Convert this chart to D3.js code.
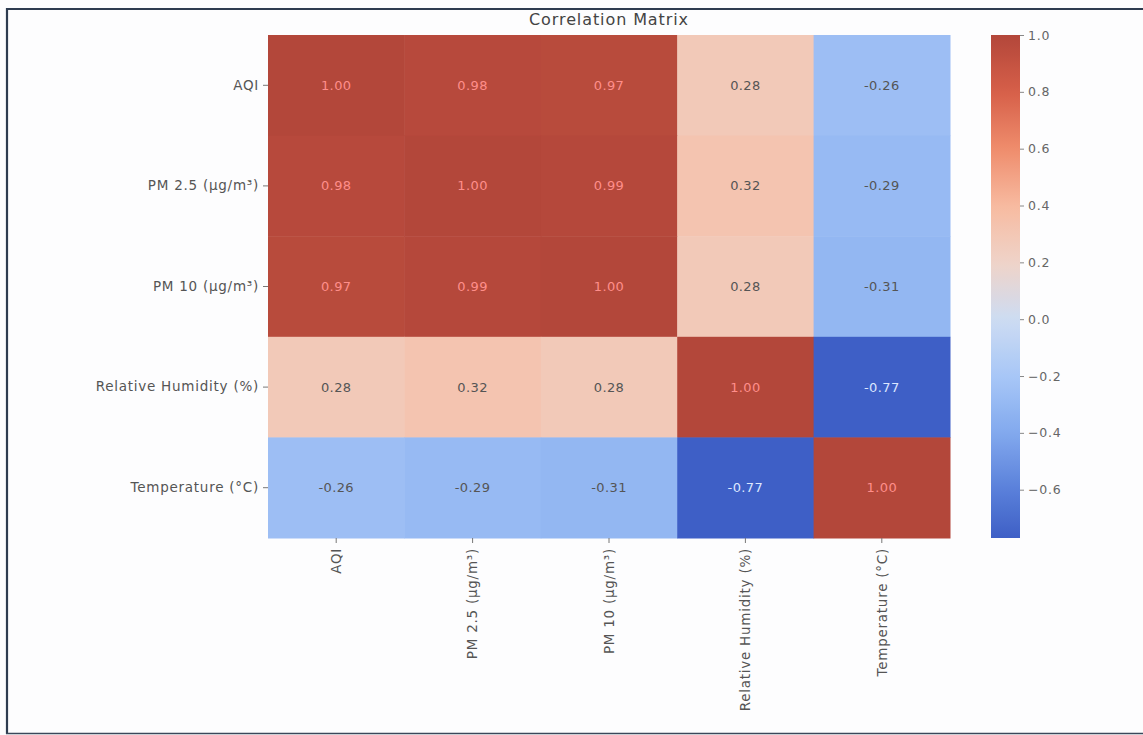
<!DOCTYPE html>
<html>
<head>
<meta charset="utf-8">
<script src="https://cdn.jsdelivr.net/npm/d3@7"></script>
<style>
  html, body { margin: 0; padding: 0; background: #fdfdfe; }
  svg { display: block; }
  text { font-family: "DejaVu Sans", sans-serif; }
</style>
</head>
<body>
<svg id="chart" width="1143" height="735"></svg>
<script>
// ---- data ----
const labels = ["AQI", "PM 2.5 (µg/m³)", "PM 10 (µg/m³)", "Relative Humidity (%)", "Temperature (°C)"];
const rowAQI  = [1.00, 0.98, 0.97, 0.28, -0.26];
const rowPM25 = [0.98, 1.00, 0.99, 0.32, -0.29];
const rowPM10 = [0.97, 0.99, 1.00, 0.28, -0.31];
const rowRH   = [0.28, 0.32, 0.28, 1.00, -0.77];
const rowTemp = [-0.26, -0.29, -0.31, -0.77, 1.00];
const colorbarTicks = [1.0, 0.8, 0.6, 0.4, 0.2, 0.0, -0.2, -0.4, -0.6];
const titleText = "Correlation Matrix";

const matrix = [rowAQI, rowPM25, rowPM10, rowRH, rowTemp];
const cells = [];
matrix.forEach((row, i) => row.forEach((v, j) => cells.push({ r: labels[i], c: labels[j], v })));

const vmin = d3.min(cells, d => d.v), vmax = d3.max(cells, d => d.v);

// colour map (scan-tinted coolwarm)
const color = d3.scaleLinear()
  .domain([-0.77, -0.6, -0.4, -0.2, 0.0, 0.2, 0.4, 0.6, 0.8, 1.0])
  .range(["#3e5fc6", "#5a80da", "#82a9ee", "#a8c7f7", "#cddcf2", "#efd3c8", "#f7baa0", "#ef8c6c", "#d65f49", "#b3473a"])
  .interpolate(d3.interpolateRgb)
  .clamp(true);

const svg = d3.select("#chart");

// frame
svg.append("line").attr("x1", 6).attr("x2", 1143).attr("y1", 9).attr("y2", 9)
  .attr("stroke", "#2e3c50").attr("stroke-width", 2.2);
svg.append("line").attr("x1", 7).attr("x2", 7).attr("y1", 8).attr("y2", 734)
  .attr("stroke", "#2e3c50").attr("stroke-width", 2.2);
svg.append("line").attr("x1", 6).attr("x2", 1143).attr("y1", 733.5).attr("y2", 733.5)
  .attr("stroke", "#3a475a").attr("stroke-width", 1.5);

const L = 268, R = 950, T = 35, B = 538;
const x = d3.scaleBand().domain(labels).range([L, R]);
const y = d3.scaleBand().domain(labels).range([T, B]);

svg.append("g").selectAll("rect").data(cells).join("rect")
  .attr("x", d => x(d.c)).attr("y", d => y(d.r))
  .attr("width", x.bandwidth() + 0.5).attr("height", y.bandwidth() + 0.5)
  .attr("fill", d => color(d.v));

svg.append("g").selectAll("text").data(cells).join("text")
  .attr("x", d => x(d.c) + x.bandwidth() / 2)
  .attr("y", d => y(d.r) + y.bandwidth() / 2)
  .attr("dy", "0.35em")
  .attr("text-anchor", "middle")
  .attr("font-size", 13)
  .attr("letter-spacing", 0.4)
  .attr("fill", d => d.v > 0.6 ? "#ff8e8a" : (d.v < -0.5 ? "#dce7ff" : "#555555"))
  .text(d => d3.format(".2f")(d.v).replace("−", "-"));

// axes
const yAxis = svg.append("g").attr("transform", `translate(${L},0)`)
  .call(d3.axisLeft(y).tickSize(5).tickPadding(4));
yAxis.select(".domain").remove();
yAxis.selectAll("line").attr("stroke", "#777");
yAxis.selectAll("text").attr("font-size", 13.5).attr("fill", "#555")
  .attr("letter-spacing", 0.75)
  .attr("font-family", "DejaVu Sans, sans-serif");

const xAxis = svg.append("g").attr("transform", `translate(0,${B})`)
  .call(d3.axisBottom(x).tickSize(5).tickPadding(4));
xAxis.select(".domain").remove();
xAxis.selectAll("line").attr("stroke", "#777");
xAxis.selectAll(".tick text").attr("font-size", 13.5).attr("fill", "#555")
  .attr("letter-spacing", 0.75)
  .attr("font-family", "DejaVu Sans, sans-serif")
  .attr("transform", "rotate(-90)")
  .attr("text-anchor", "end")
  .attr("x", -10).attr("y", 0).attr("dy", "0.35em");

// title
svg.append("text").attr("x", (L + R) / 2).attr("y", 25)
  .attr("text-anchor", "middle").attr("font-size", 16).attr("fill", "#444")
  .attr("letter-spacing", 0.9)
  .text(titleText);

// colorbar
const cbX = 991, cbW = 29;
const cbScale = d3.scaleLinear().domain([vmin, vmax]).range([B, T]);
const defs = svg.append("defs");
const grad = defs.append("linearGradient").attr("id", "cbgrad")
  .attr("x1", 0).attr("x2", 0).attr("y1", 1).attr("y2", 0);
d3.range(0, 1.0001, 0.02).forEach(t => {
  const v = vmin + t * (vmax - vmin);
  grad.append("stop").attr("offset", t).attr("stop-color", color(v));
});
svg.append("rect").attr("x", cbX).attr("y", T).attr("width", cbW).attr("height", B - T)
  .attr("fill", "url(#cbgrad)");
const cbAxis = svg.append("g").attr("transform", `translate(${cbX + cbW},0)`)
  .call(d3.axisRight(cbScale).tickValues(colorbarTicks).tickSize(4).tickPadding(4)
    .tickFormat(d => d3.format(".1f")(d)));
cbAxis.select(".domain").remove();
cbAxis.selectAll("line").attr("stroke", "#888");
cbAxis.selectAll("text").attr("font-size", 12.5).attr("fill", "#666")
  .attr("letter-spacing", 0.8)
  .attr("font-family", "DejaVu Sans, sans-serif");
</script>
</body>
</html>
